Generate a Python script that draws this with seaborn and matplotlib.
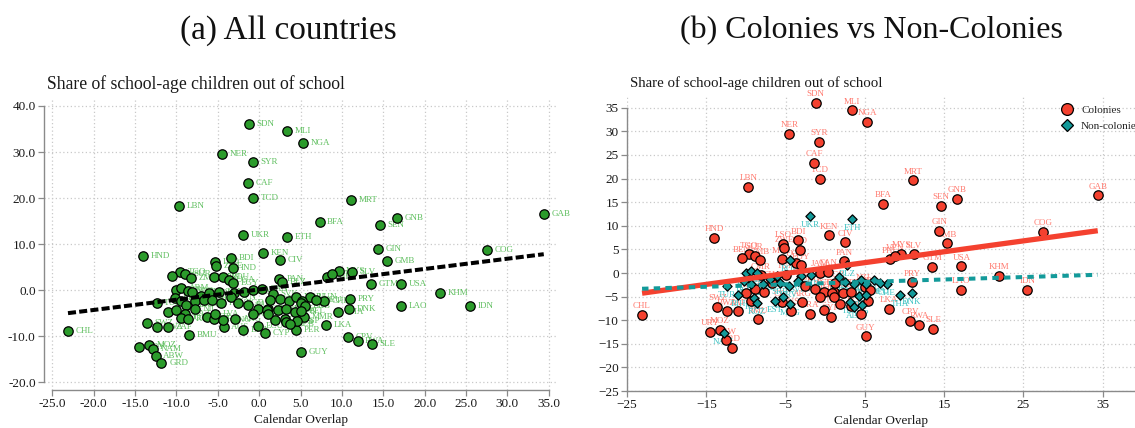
import numpy as np
import pandas as pd
import matplotlib
matplotlib.use("Agg")
import matplotlib.pyplot as plt
from matplotlib.lines import Line2D
import seaborn as sns

# Country codes, calendar overlap (x), share out of school (y), colonial status (1 = colony)
codes = [
    "SDN", "MLI", "NGA", "NER", "SYR", "CAF", "TCD", "LBN", "MRT", "BFA",
    "SEN", "GNB", "GAB", "UKR", "ETH", "HND", "KEN", "CIV", "BDI", "LSO",
    "ZWE", "IND", "GIN", "GMB", "COG", "PAN", "BLZ", "TGO", "SUR", "BEN",
    "ZMB", "MWI", "ROU", "UGA", "EGY", "MYS", "SLV", "PHL", "VEN", "GTM",
    "USA", "KHM", "LAO", "IDN", "PRY", "DNK", "THA", "LKA", "CPV", "RWA",
    "SLE", "GUY", "PER", "CYP", "ECU", "BRA", "CHL", "SWZ", "BWA", "ZAF",
    "BMU", "URY", "MOZ", "NAM", "ABW", "GRD", "AUS", "TUR", "HUN", "MMR",
    "BGR", "ARM", "GEO", "CMR", "GRC", "POL", "TUN", "ISR", "CZE", "JAM",
    "CAN", "SVK", "FIN", "SWE", "NOR", "BLR", "MDA", "MDG", "LTU", "GHA",
    "SRB", "HRV", "SVN", "BGD", "PAK", "AGO", "TZA", "SGP", "BOL", "MEX",
    "JPN", "BIH", "HTI", "KAZ", "DOM", "KGZ", "NIC", "EST", "CRI", "LVA",
    "MNG", "ARG", "COL", "CUB", "TTO", "ITA", "ESP", "CHE", "AUT", "NZL",
    "BRB", "DEU", "IRL", "MUS", "BEL", "ALB",
]
overlap = [
    -1.2, 3.4, 5.3, -4.5, -0.8, -1.4, -0.7, -9.7, 11.1, 7.3,
    14.6, 16.7, 34.4, -1.9, 3.4, -14.0, 0.5, 2.5, -3.4, -5.3,
    -5.2, -3.2, 14.4, 15.4, 27.5, 2.4, 2.8, -9.6, -8.9, -10.5,
    -8.2, -5.5, -4.4, -3.7, -3.1, 9.6, 11.2, 8.2, 8.8, 13.5,
    17.2, 21.9, 17.2, 25.5, 11.0, 10.9, 9.5, 8.1, 10.7, 11.9,
    13.6, 5.1, 4.5, 0.7, -0.1, -1.9, -23.1, -13.6, -12.4, -11.0,
    -8.5, -14.5, -13.3, -12.8, -12.5, -11.8, -4.3, -12.4, 6.2, 5.4,
    -10.0, -9.4, -8.6, -8.1, -7.0, -6.1, -4.9, -3.0, -1.8, -0.7,
    0.4, 1.7, 2.5, 3.6, 4.5, -10.2, -9.4, -8.8, -7.8, -6.7,
    -5.7, -4.6, -3.4, -2.5, -1.3, -0.1, 1.1, 1.3, 2.3, 3.3,
    4.3, -11.0, -10.0, -9.0, -9.4, -8.6, -7.7, -6.3, -5.5, -5.3,
    -4.4, -2.9, -0.7, 0.9, 1.9, 3.1, 4.6, 7.8, 5.2, 5.0,
    5.6, 6.9, 1.1, 3.3, 5.1, 3.7,
]
out_of_school = [
    36.0, 34.5, 32.0, 29.5, 27.8, 23.3, 20.0, 18.2, 19.6, 14.7,
    14.2, 15.7, 16.5, 12.0, 11.5, 7.4, 8.0, 6.5, 6.9, 6.2,
    5.2, 4.9, 8.9, 6.3, 8.7, 2.5, 1.8, 4.0, 3.6, 3.1,
    2.7, 2.9, 2.8, 2.2, 1.6, 4.1, 4.0, 2.9, 3.5, 1.3,
    1.4, -0.6, -3.5, -3.5, -2.0, -4.2, -4.7, -7.6, -10.1, -11.0,
    -11.8, -13.4, -8.7, -9.3, -7.8, -8.7, -8.9, -7.2, -8.1, -8.1,
    -9.8, -12.4, -12.0, -12.7, -14.3, -15.8, -8.0, -2.8, -1.4, -5.9,
    0.1, 0.4, -0.1, -0.5, -1.2, -0.7, -0.4, -0.6, -0.4, 0.0,
    0.2, -0.9, -2.0, -2.3, -1.5, -1.8, -2.3, -3.3, -2.4, -2.2,
    -2.1, -2.7, -1.6, -2.8, -3.3, -4.0, -4.0, -2.2, -4.3, -4.0,
    -4.8, -4.7, -4.3, -5.2, -6.0, -6.3, -4.0, -5.9, -6.2, -5.1,
    -6.5, -6.2, -5.1, -4.3, -6.5, -6.2, -6.7, -2.3, -2.3, -2.9,
    -3.5, -2.2, -5.1, -6.9, -4.6, -7.3,
]
colony = [
    1, 1, 1, 1, 1, 1, 1, 1, 1, 1,
    1, 1, 1, 0, 0, 1, 1, 1, 1, 1,
    1, 1, 1, 1, 1, 1, 0, 1, 1, 1,
    1, 1, 0, 1, 1, 1, 1, 1, 1, 1,
    1, 1, 1, 1, 1, 0, 0, 1, 1, 1,
    1, 1, 1, 1, 1, 1, 1, 1, 1, 1,
    1, 1, 1, 0, 1, 1, 1, 0, 0, 1,
    0, 0, 0, 1, 0, 0, 1, 0, 0, 1,
    1, 0, 0, 0, 0, 0, 0, 1, 0, 1,
    0, 0, 0, 1, 1, 1, 1, 1, 1, 1,
    0, 0, 1, 0, 1, 0, 1, 0, 1, 0,
    0, 1, 1, 1, 1, 0, 0, 0, 0, 1,
    1, 0, 1, 1, 0, 0,
]

group_names = ["Non-colonies", "Colonies"]
df = pd.DataFrame({
    "code": codes,
    "overlap": overlap,
    "oos": out_of_school,
    "group": [group_names[c] for c in colony],
})

sns.set_theme(style="ticks")
plt.rcParams["font.family"] = ["Liberation Serif", "DejaVu Serif"]

GREEN = "#2b9b2b"
GREEN_TXT = "#5fbf5f"
RED = "#f4412f"
RED_TXT = "#ff7b70"
TEAL = "#139a9a"
TEAL_TXT = "#3fc3c3"
AXIS = "#8a8a8a"

fig = plt.figure(figsize=(11.35, 4.28), dpi=100)
axL = fig.add_axes([44 / 1135, 38 / 428, 513 / 1135, 290 / 428])
axR = fig.add_axes([627 / 1135, 37 / 428, 508 / 1135, 295 / 428])


def style_axes(ax):
    ax.set_facecolor("white")
    ax.spines["top"].set_visible(False)
    ax.spines["right"].set_visible(False)
    for s in ("left", "bottom"):
        ax.spines[s].set_color(AXIS)
        ax.spines[s].set_linewidth(1.0)
    ax.tick_params(direction="out", length=4, width=0.9, color=AXIS,
                   labelsize=9.5, labelcolor="#1a1a1a", pad=2)
    ax.grid(True, linestyle=(0, (1, 2)), color="#c9c9c9", linewidth=0.9)
    ax.set_axisbelow(True)
    ax.set_ylabel("")
    ax.set_xlabel("Calendar Overlap", fontsize=9.5, color="#1a1a1a", labelpad=2.5)


def fit_line(x, y, xs):
    b, a = np.polyfit(x, y, 1)
    return a + b * xs


x_span = np.array([df["overlap"].min(), df["overlap"].max()])

# ---- (a) all countries ----
sns.scatterplot(data=df, x="overlap", y="oos", ax=axL, color=GREEN,
                edgecolor="black", linewidth=0.9, s=46, zorder=3, legend=False)
for c, xv, yv in zip(df["code"], df["overlap"], df["oos"]):
    axL.annotate(c, (xv, yv), xytext=(5.5, 0), textcoords="offset points",
                 ha="left", va="center", fontsize=6.5, color=GREEN_TXT, zorder=2)
axL.plot(x_span, fit_line(df["overlap"], df["oos"], x_span), color="black",
         lw=2.9, dashes=(2.0, 0.8), solid_capstyle="butt", zorder=4)
axL.set_xlim(-26, 36)
axL.set_ylim(-21.7, 41.3)
axL.set_xticks(np.arange(-25, 36, 5))
axL.set_yticks(np.arange(-20, 41, 10))
axL.xaxis.set_major_formatter(matplotlib.ticker.FormatStrFormatter("%.1f"))
axL.yaxis.set_major_formatter(matplotlib.ticker.FormatStrFormatter("%.1f"))
style_axes(axL)
axL.spines["left"].set_bounds(-20, 40)
axL.spines["bottom"].set_bounds(-25, 35)

# ---- (b) colonies vs non-colonies ----
col = df[df["group"] == "Colonies"]
non = df[df["group"] == "Non-colonies"]
sns.scatterplot(data=col, x="overlap", y="oos", ax=axR, color=RED, marker="o",
                edgecolor="black", linewidth=0.9, s=46, zorder=3, legend=False)
sns.scatterplot(data=non, x="overlap", y="oos", ax=axR, color=TEAL, marker="D",
                edgecolor="black", linewidth=0.9, s=22, zorder=3, legend=False)
for c, xv, yv in zip(col["code"], col["overlap"], col["oos"]):
    axR.annotate(c, (xv, yv), xytext=(0, 6.2), textcoords="offset points",
                 ha="center", va="center", fontsize=6.5, color=RED_TXT, zorder=2)
for c, xv, yv in zip(non["code"], non["overlap"], non["oos"]):
    axR.annotate(c, (xv, yv), xytext=(0, -6.5), textcoords="offset points",
                 ha="center", va="center", fontsize=6.5, color=TEAL_TXT, zorder=2)
axR.plot(x_span, fit_line(col["overlap"], col["oos"], x_span), color=RED,
         lw=3.8, solid_capstyle="butt", zorder=4)
axR.plot(x_span, fit_line(non["overlap"], non["oos"], x_span), color=TEAL,
         lw=2.9, dashes=(1.6, 1.3), zorder=5)
axR.set_xlim(-25, 39.1)
axR.set_ylim(-25, 37.5)
axR.set_xticks(np.arange(-25, 36, 10))
axR.set_yticks(np.arange(-25, 36, 5))
style_axes(axR)
axR.spines["left"].set_bounds(-25, 35)

handles = [
    Line2D([], [], marker="o", linestyle="none", markersize=8.5,
           markerfacecolor=RED, markeredgecolor="black", markeredgewidth=0.9),
    Line2D([], [], marker="D", linestyle="none", markersize=6,
           markerfacecolor=TEAL, markeredgecolor="black", markeredgewidth=0.9),
]
axR.legend(handles, ["Colonies", "Non-colonies"], loc="upper left",
           bbox_to_anchor=(0.836, 0.985), frameon=False, fontsize=8,
           handletextpad=0.25, labelspacing=0.55, borderaxespad=0)

# Axis titles and panel headings
fig.text(47 / 1135, 1 - 84 / 428, "Share of school-age children out of school",
         fontsize=12.7, va="center", ha="left", color="#1a1a1a")
fig.text(630 / 1135, 1 - 83 / 428, "Share of school-age children out of school",
         fontsize=10.7, va="center", ha="left", color="#1a1a1a")
fig.text(288 / 1135, 1 - 31 / 428, "(a) All countries", fontsize=24,
         va="center", ha="center", color="#111111")
fig.text(871 / 1135, 1 - 31 / 428, "(b) Colonies vs Non-Colonies", fontsize=23,
         va="center", ha="center", color="#111111")

fig.savefig("out.png", dpi=100, facecolor="white")
